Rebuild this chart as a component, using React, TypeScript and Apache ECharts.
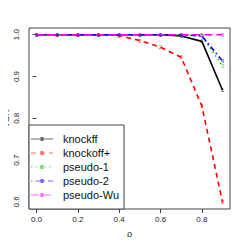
import React, { useEffect, useRef } from "react";
import * as echarts from "echarts";

const rho = [0, 0.1, 0.2, 0.3, 0.4, 0.5, 0.6, 0.7, 0.8, 0.9];
const knockff = [1, 1, 1, 1, 1, 1, 1, 0.997, 0.984, 0.867];
const knockoffPlus = [1, 1, 1, 1, 0.998, 0.986, 0.97, 0.946, 0.829, 0.599];
const pseudo1 = [1, 1, 1, 1, 1, 1, 1, 1, 0.997, 0.925];
const pseudo2 = [1, 1, 1, 1, 1, 1, 1, 1, 0.997, 0.937];
const pseudoWu = [1, 1, 1, 1, 1, 1, 1, 1, 1, 1];
const seriesNames = ["knockff", "knockoff+", "pseudo-1", "pseudo-2", "pseudo-Wu"];
const xTicks = [0, 0.2, 0.4, 0.6, 0.8];
const yTicks = [0.6, 0.7, 0.8, 0.9, 1.0];

const colors = ["#000000", "#FF0000", "#00CD00", "#0000FF", "#FF00FF"];
const dashes: any[] = ["solid", [5, 4], [1.5, 3], [1.5, 3, 5, 3], [8, 4]];
const digits = ["1", "2", "3", "4", "5"];

function iconPath(pattern: any): string {
  const W = 22;
  const y0 = 6.5;
  const y1 = 7.5;
  let d = "path://M0,0 H0.01 V0.01 H0 Z M21.99,13.99 H22 V14 H21.99 Z ";
  const seg = (a: number, b: number) => `M${a},${y0} H${b} V${y1} H${a} Z `;
  if (pattern === "solid") {
    d += seg(0, W);
  } else {
    let x = 0;
    let k = 0;
    while (x < W) {
      const len = pattern[k % pattern.length];
      if (k % 2 === 0) d += seg(x, Math.min(W, x + len));
      x += len;
      k++;
    }
  }
  d += `M9.5,5 H12.5 V9 H9.5 Z`;
  return d;
}

export default function App() {
  const ref = useRef<HTMLDivElement>(null);
  useEffect(() => {
    if (!ref.current) return;
    const chart = echarts.init(ref.current, undefined, { renderer: "svg" });
    const all = [knockff, knockoffPlus, pseudo1, pseudo2, pseudoWu];
    const font = "Liberation Sans, Arial, sans-serif";
    const lines = all.map((vals, i) => ({
      type: "line",
      name: seriesNames[i],
      data: rho.map((x, j) => [x, vals[j]]),
      symbol: "none",
      color: colors[i],
      lineStyle: { color: colors[i], width: 1.6, type: dashes[i] },
      z: 2 + i,
    }));
    const pts = all.map((vals, i) => ({
      type: "scatter",
      name: "pts" + i,
      data: rho.map((x, j) => [x, vals[j]]),
      symbol: "circle",
      symbolSize: 1,
      itemStyle: { color: "rgba(0,0,0,0)" },
      label: {
        show: true,
        position: "inside",
        formatter: () => digits[i],
        fontSize: 6,
        color: colors[i],
        fontFamily: font,
      },
      z: 10 + i,
    }));
    chart.setOption({
      animation: false,
      grid: {
        left: 29,
        right: 15,
        top: 28,
        bottom: 36,
        outerBoundsMode: "none",
        containLabel: false,
        show: true,
        borderColor: "#444",
        borderWidth: 1,
        backgroundColor: "transparent",
      },
      xAxis: {
        type: "value",
        min: -0.036,
        max: 0.936,
        name: "ρ",
        nameLocation: "middle",
        nameGap: 20,
        nameMoveOverlap: false,
        nameTextStyle: { fontSize: 9, color: "#222", fontFamily: font },
        axisLine: { show: false },
        splitLine: { show: false },
        axisTick: {
          show: true,
          inside: false,
          length: 4,
          lineStyle: { color: "#444" },
          customValues: xTicks,
        },
        axisLabel: {
          fontSize: 8,
          color: "#222",
          margin: 6,
          fontFamily: font,
          customValues: xTicks,
          formatter: (v: number) => v.toFixed(1),
        },
      },
      yAxis: {
        type: "value",
        min: 0.583,
        max: 1.016,
        name: "TSR",
        nameLocation: "middle",
        nameGap: 19,
        nameRotate: 90,
        nameMoveOverlap: false,
        nameTextStyle: { fontSize: 9, color: "#222", fontFamily: font },
        axisLine: { show: false },
        splitLine: { show: false },
        axisTick: {
          show: true,
          inside: false,
          length: 4,
          lineStyle: { color: "#444" },
          customValues: yTicks,
        },
        axisLabel: {
          fontSize: 8,
          color: "#222",
          margin: 9,
          rotate: 90,
          align: "center",
          verticalAlign: "bottom",
          fontFamily: font,
          customValues: yTicks,
          formatter: (v: number) => v.toFixed(1),
        },
      },
      legend: {
        orient: "vertical",
        left: 29,
        top: 125,
        padding: [7, 5, 7, 2],
        itemWidth: 22,
        itemHeight: 14,
        itemGap: 0,
        borderColor: "#444",
        borderWidth: 1,
        borderRadius: 0,
        backgroundColor: "#fff",
        itemStyle: { opacity: 0.6 },
        data: seriesNames.map((n, i) => ({ name: n, icon: iconPath(dashes[i]) })),
        textStyle: { fontSize: 11, color: "#111", fontFamily: font, padding: [0, 0, 0, 5] },
      },
      series: [...lines, ...pts],
    });
    return () => chart.dispose();
  }, []);
  return <div ref={ref} style={{ width: 245, height: 245, margin: -8 }} />;
}
